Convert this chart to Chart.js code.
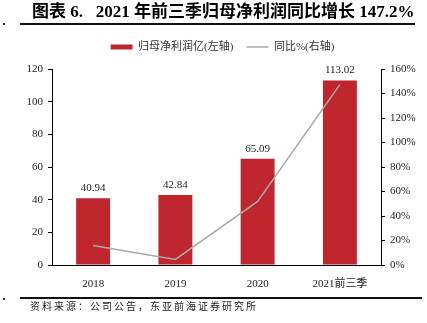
<!DOCTYPE html>
<html><head><meta charset="utf-8">
<script src="https://cdn.jsdelivr.net/npm/chart.js@4/dist/chart.umd.min.js"></script>
<style>
html,body{margin:0;padding:0;background:#fff;}
#wrap{position:relative;width:427px;height:323px;overflow:hidden;}
#c{position:absolute;left:0;top:0;}
.title{position:absolute;left:32px;top:2px;font-family:'Liberation Serif','Noto Sans CJK SC',serif;font-weight:bold;font-size:17px;color:#000;white-space:nowrap;line-height:20px;}
.rule{position:absolute;height:2px;background:#111;}
.src{position:absolute;left:30px;top:298px;font-family:'Noto Sans CJK SC',sans-serif;font-size:10px;letter-spacing:2px;color:#222;white-space:nowrap;}
.dot{position:absolute;width:2px;height:2px;background:#333;left:3px;}
</style></head>
<body><div id="wrap">
<canvas id="c" width="427" height="323"></canvas>
<div class="title">图表 6.&nbsp;&nbsp; 2021 年前三季归母净利润同比增长 147.2%</div>
<div class="rule" style="left:20px;top:23px;width:395px;"></div>
<div class="rule" style="left:20px;top:297px;width:402px;"></div>
<div class="dot" style="top:23px"></div>
<div class="dot" style="top:298px"></div>
<div class="src">资料来源：公司公告，东亚前海证券研究所</div>
</div>
<script>
const categories = ['2018', '2019', '2020', '2021前三季'];
const profit = [40.94, 42.84, 65.09, 113.02];
const yoy = [16.0, 4.6, 51.9, 147.2];
const leftTicks = [0, 20, 40, 60, 80, 100, 120];
const rightTicks = [0, 20, 40, 60, 80, 100, 120, 140, 160];
const seriesNames = ['归母净利润亿(左轴)', '同比%(右轴)'];

const serif = "'Liberation Serif','Noto Sans CJK SC',serif";

const barLabels = {
  id: 'barLabels',
  afterDatasetsDraw(chart) {
    const ctx = chart.ctx;
    const meta = chart.getDatasetMeta(0);
    ctx.save();
    ctx.font = '11px ' + serif;
    ctx.fillStyle = '#222';
    ctx.textAlign = 'center';
    ctx.textBaseline = 'middle';
    meta.data.forEach((bar, i) => {
      ctx.fillText(profit[i].toFixed(2), bar.x, bar.y - 10);
    });
    ctx.restore();
  }
};
const legendFix = {
  id: 'legendFix',
  beforeInit(chart) {
    const orig = chart.legend.fit;
    chart.legend.fit = function () { orig.call(this); this.height = 40.5; };
  },
  afterLayout(chart) {
    chart.legend.left += 9; chart.legend.right += 9;
  }
};

new Chart(document.getElementById('c'), {
  data: {
    labels: categories,
    datasets: [
      { type: 'bar', label: seriesNames[0], data: profit, yAxisID: 'y',
        backgroundColor: '#C0262D', barPercentage: 0.413, categoryPercentage: 1, order: 2 },
      { type: 'line', label: seriesNames[1], data: yoy, yAxisID: 'y1',
        borderColor: '#A8A8A8', backgroundColor: '#A8A8A8', borderWidth: 1.5,
        pointRadius: 0, tension: 0, order: 1 }
    ]
  },
  options: {
    responsive: false, animation: false,
    layout: { padding: { top: 28.5, bottom: 33, left: 0, right: 0 } },
    plugins: {
      tooltip: { enabled: false },
      legend: {
        position: 'top',
        labels: {
          usePointStyle: true, pointStyleWidth: 22, boxHeight: 5, padding: 13,
          font: { family: serif, size: 11 }, color: '#333',
          sort: (a, b) => a.datasetIndex - b.datasetIndex,
          generateLabels(chart) {
            const items = Chart.defaults.plugins.legend.labels.generateLabels(chart);
            items.forEach(it => {
              if (it.datasetIndex === 0) { it.pointStyle = 'rect'; it.lineWidth = 0; }
              else { it.pointStyle = 'line'; it.lineWidth = 1.5; it.strokeStyle = '#A8A8A8'; }
            });
            return items.sort((a, b) => a.datasetIndex - b.datasetIndex);
          }
        }
      }
    },
    scales: {
      x: {
        offset: true,
        grid: { display: false },
        border: { display: true, color: '#000', width: 1 },
        ticks: { font: { family: serif, size: 11 }, color: '#222', padding: 5, maxRotation: 0 },
        afterFit(s) { s.height = 25; }
      },
      y: {
        position: 'left', min: 0, max: 120,
        afterBuildTicks(s) { s.ticks = leftTicks.map(v => ({ value: v })); },
        grid: { drawOnChartArea: false, drawTicks: true, tickLength: 4, color: '#000' },
        border: { display: true, color: '#000', width: 1 },
        ticks: { font: { family: serif, size: 11 }, color: '#222', padding: 5 },
        afterFit(s) { s.width = 52; }
      },
      y1: {
        position: 'right', min: 0, max: 160,
        afterBuildTicks(s) { s.ticks = rightTicks.map(v => ({ value: v })); },
        grid: { drawOnChartArea: false, drawTicks: true, tickLength: 4, color: '#000' },
        border: { display: true, color: '#000', width: 1 },
        ticks: { font: { family: serif, size: 11 }, color: '#222', padding: 5, callback: v => v + '%' },
        afterFit(s) { s.width = 46; }
      }
    }
  },
  plugins: [barLabels, legendFix]
});
</script>
</body></html>
